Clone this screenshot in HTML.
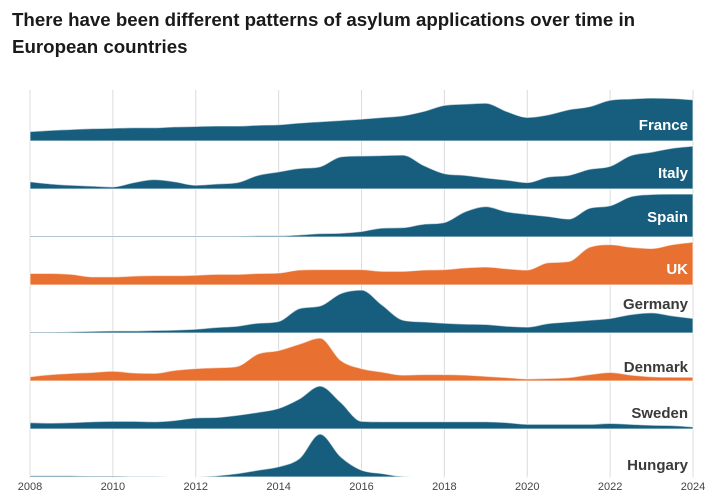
<!DOCTYPE html>
<html><head><meta charset="utf-8"><style>
body{margin:0;background:#fff;width:714px;height:498px;overflow:hidden;font-family:"Liberation Sans",sans-serif}
#title{position:absolute;left:12px;top:6px;font-size:18.7px;font-weight:bold;color:#1a1a1a;line-height:27px;margin:0}
svg{position:absolute;left:0;top:0}
</style></head><body>
<h1 id="title">There have been different patterns of asylum applications over time in<br>European countries</h1>
<svg id="chart" width="714" height="498"></svg>
<script>
const years=[];for(let y=2008;y<=2024;y+=0.5)years.push(y);
const countries=["France","Italy","Spain","UK","Germany","Denmark","Sweden","Hungary"];
const colorsKey=["blue","blue","blue","orange","blue","orange","blue","blue"];
const france=[22,25,27,29,30,31,31,33,34,35,35,37,38,42,45,48,51,55,59,69,83,86,88,69,55,61,73,80,95,98,100,99,96];
const italy=[17,12,9,7,5,15,22,17,9,12,15,32,40,48,52,75,77,78,79,55,36,32,26,21,15,28,32,46,53,78,86,95,100];
const spain=[2,2,2,2,2,2,2,2,2,2,2,3,3,5,8,9,13,21,22,30,34,59,71,59,53,48,42,67,73,94,99,100,100];
const uk=[27,27,25,19,19,21,22,22,23,25,25,27,28,35,36,36,36,32,32,35,36,40,42,38,35,52,55,88,94,88,85,94,100];
const germany=[2,2,3,4,5,5,6,7,9,13,16,23,27,57,63,92,100,65,30,26,23,21,20,16,14,22,26,30,34,43,47,40,34];
const denmark=[10,15,18,20,23,19,18,25,29,31,34,63,71,86,100,48,29,21,14,15,15,14,11,8,5,6,8,15,20,14,10,9,9];
const sweden=[15,14,15,17,18,18,17,20,26,27,32,39,48,70,100,62,18,17,17,17,17,17,17,15,11,11,11,11,13,11,9,8,5];
const hungary=[3,3,3,2,2,1,1,0,0,3,8,16,24,43,100,47,16,8,1,0,0,0,0,0,0,0,0,0,0,0,0,0,0];
const series=[france,italy,spain,uk,germany,denmark,sweden,hungary];
const tickYears=[2008,2010,2012,2014,2016,2018,2020,2022,2024];

const NS="http://www.w3.org/2000/svg";
const svg=document.getElementById('chart');
const X0=30,X1=693,Y_BASE0=141,ROW=48,H=43;
const labelLift=[11,11,15,11,24,9,11,7];
const xs=y=>X0+(y-2008)/16*(X1-X0);
const ys=(v,i)=>Y_BASE0+i*ROW-v/100*H;
const COL={blue:"#175e7e",orange:"#e87131"};
function mk(t,a){const e=document.createElementNS(NS,t);for(const k in a)e.setAttribute(k,a[k]);svg.appendChild(e);return e;}
tickYears.forEach(t=>{
 const g=mk('line',{x1:xs(t),x2:xs(t),y1:90,y2:478,stroke:"#dcdcdc","stroke-width":1});
 
 
 const tx=mk('text',{x:xs(t),y:490,"text-anchor":"middle","font-size":"11","fill":"#444","font-family":"Liberation Sans Narrow, Liberation Sans, sans-serif"});
 tx.textContent=t;
 
 
});
function monoPath(px,py){
 const n=px.length,d=[],m=[];
 for(let i=0;i<n-1;i++)d.push((py[i+1]-py[i])/(px[i+1]-px[i]));
 m[0]=d[0];m[n-1]=d[n-2];
 for(let i=1;i<n-1;i++)m[i]=(d[i-1]*d[i]<=0)?0:(d[i-1]+d[i])/2;
 for(let i=0;i<n-1;i++){if(d[i]===0){m[i]=0;m[i+1]=0;continue;}const a=m[i]/d[i],b=m[i+1]/d[i],s=a*a+b*b;if(s>9){const t=3/Math.sqrt(s);m[i]=t*a*d[i];m[i+1]=t*b*d[i];}}
 let p="M"+px[0]+","+py[0];
 for(let i=0;i<n-1;i++){const h=(px[i+1]-px[i])/3;p+=" C"+(px[i]+h)+","+(py[i]+m[i]*h)+" "+(px[i+1]-h)+","+(py[i+1]-m[i+1]*h)+" "+px[i+1]+","+py[i+1];}
 return p;
}
series.forEach((vals,i)=>{
 const px=years.map(xs),py=vals.map(v=>ys(v,i));
 const base=Y_BASE0+i*ROW;
 const d=monoPath(px,py)+" L"+X1+","+base+" L"+X0+","+base+" Z";
 const p=mk('path',{d:d,fill:COL[colorsKey[i]],stroke:"#ffffff","stroke-width":1.2,"stroke-opacity":0.6});
 
 
 const light=i<4;
 const t=mk('text',{x:688,y:base-labelLift[i],"text-anchor":"end","font-size":"15","font-weight":"bold","fill":light?"#fff":"#3a3a3a","font-family":"Liberation Sans Narrow, Liberation Sans, sans-serif"});
 t.textContent=countries[i];
 
 
});
</script>
</body></html>
